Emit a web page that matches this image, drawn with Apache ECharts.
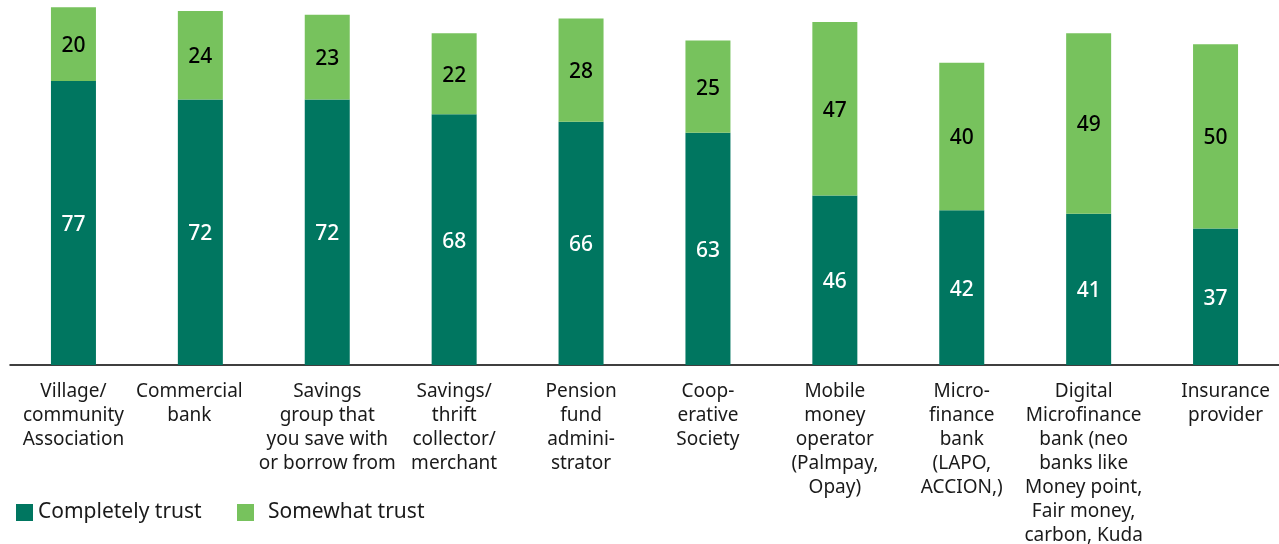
<!DOCTYPE html>
<html>
<head>
<meta charset="utf-8">
<script src="https://cdn.jsdelivr.net/npm/echarts@6/dist/echarts.min.js"></script>
<style>
  html, body { margin: 0; padding: 0; background: #fff; }
  #chart { width: 1279px; height: 544px; }
</style>
</head>
<body>
<div id="chart"></div>
<script>
// Trust levels by type of financial provider (%)
const categories = [
  'Village/\ncommunity\nAssociation',
  'Commercial\nbank',
  'Savings\ngroup that\nyou save with\nor borrow from',
  'Savings/\nthrift\ncollector/\nmerchant',
  'Pension\nfund\nadmini-\nstrator',
  'Coop-\nerative\nSociety',
  'Mobile\nmoney\noperator\n(Palmpay,\nOpay)',
  'Micro-\nfinance\nbank\n(LAPO,\nACCION,)',
  'Digital\nMicrofinance\nbank (neo\nbanks like\nMoney point,\nFair money,\ncarbon, Kuda',
  'Insurance\nprovider'
];
const completelyTrust = [77, 72, 72, 68, 66, 63, 46, 42, 41, 37];
const somewhatTrust = [20, 24, 23, 22, 28, 25, 47, 40, 49, 50];

const FONT = 'Noto Sans';
const legendText = { fontFamily: FONT, fontSize: 21, color: '#1a1a1a' };

// horizontal nudges for a few wide category labels (px, + = right)
const labelNudge = { 1: -11, 8: -5, 9: 10 };
const axisData = categories.map((name, i) => {
  const d = labelNudge[i] || 0;
  if (!d) return name;
  const pad = Math.abs(d) * 2;
  return { value: name, textStyle: { padding: d < 0 ? [0, pad, 0, 0] : [0, 0, 0, pad] } };
});

const valueLabel = (color) => ({
  show: true, position: 'inside', offset: [0, 2],
  color: color, fontFamily: FONT, fontSize: 21, fontWeight: 500
});

const chart = echarts.init(document.getElementById('chart'));
chart.setOption({
  animation: false,
  textStyle: { fontFamily: FONT },
  legend: [
    {
      left: 11, top: 497, itemWidth: 17, itemHeight: 17, itemGap: 0, icon: 'rect',
      textStyle: legendText,
      data: ['Completely trust']
    },
    {
      left: 232, top: 497, itemWidth: 17, itemHeight: 17, itemGap: 0, icon: 'rect',
      textStyle: Object.assign({ padding: [0, 0, 0, 9] }, legendText),
      data: ['Somewhat trust']
    }
  ],
  grid: { left: 10, right: 0, top: 0, bottom: 179, containLabel: false, outerBoundsMode: 'none' },
  xAxis: {
    type: 'category',
    data: axisData,
    axisLine: { lineStyle: { color: '#000', width: 1.5 } },
    axisTick: { show: false },
    axisLabel: {
      interval: 0,
      margin: 15,
      fontFamily: FONT,
      fontSize: 19,
      lineHeight: 24,
      color: '#1a1a1a',
      align: 'center'
    }
  },
  yAxis: {
    type: 'value',
    min: 0,
    max: 99,
    show: false,
    splitLine: { show: false }
  },
  series: [
    {
      name: 'Completely trust',
      type: 'bar',
      stack: 'trust',
      barWidth: 45,
      data: completelyTrust,
      itemStyle: { color: '#007660' },
      label: valueLabel('#fff')
    },
    {
      name: 'Somewhat trust',
      type: 'bar',
      stack: 'trust',
      barWidth: 45,
      data: somewhatTrust,
      itemStyle: { color: '#77C25D' },
      label: valueLabel('#000')
    }
  ]
});
</script>
</body>
</html>
